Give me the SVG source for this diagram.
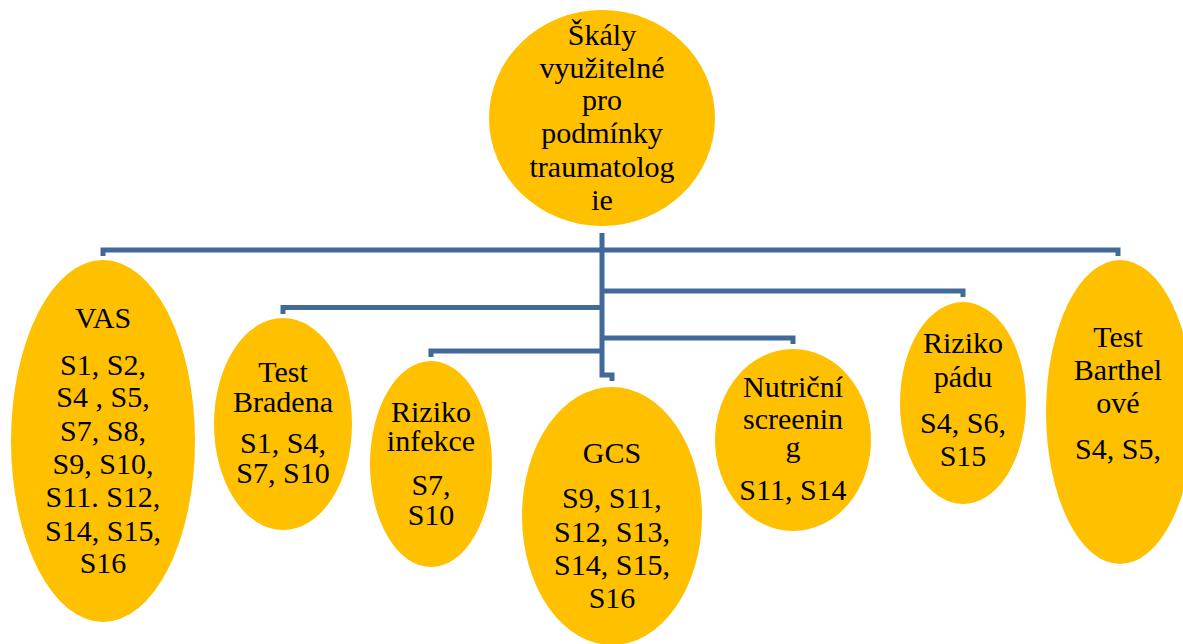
<svg xmlns="http://www.w3.org/2000/svg" width="1183" height="644" viewBox="0 0 1183 644">
<style>
.n{fill:#FFC000;}
text{font-family:"Liberation Serif","Tinos","Times New Roman","Noto Serif","DejaVu Serif",serif;font-size:30px;fill:#000;text-anchor:middle;}
.c{fill:none;stroke:#416A9B;stroke-width:5;stroke-linejoin:miter;}
</style>
<rect width="1183" height="644" fill="#fff"/>
<g id="connectors">
<path class="c" d="M602,233 V375 H612 V381"/>
<path class="c" d="M103,256 V250 H1118 V256"/>
<path class="c" d="M602,291 H963 V297"/>
<path class="c" d="M283,314 V307.5 H602"/>
<path class="c" d="M602,338 H793 V344"/>
<path class="c" d="M431,357 V351 H602"/>
</g>
<g id="root">
<ellipse class="n" cx="602" cy="118" rx="113" ry="108"/>
<text x="602" y="45">Škály</text>
<text x="602" y="78">využitelné</text>
<text x="602" y="110">pro</text>
<text x="602" y="143">podmínky</text>
<text x="602" y="177">traumatolog</text>
<text x="602" y="210">ie</text>
</g>
<g id="vas">
<ellipse class="n" cx="103" cy="441" rx="92" ry="181"/>
<text x="103" y="328">VAS</text>
<text x="103" y="375">S1, S2,</text>
<text x="103" y="407">S4 , S5,</text>
<text x="103" y="441">S7, S8,</text>
<text x="103" y="474">S9, S10,</text>
<text x="103" y="507">S11. S12,</text>
<text x="103" y="541">S14, S15,</text>
<text x="103" y="573">S16</text>
</g>
<g id="bradena">
<ellipse class="n" cx="283" cy="424" rx="69" ry="106"/>
<text x="283" y="382">Test</text>
<text x="283" y="412">Bradena</text>
<text x="283" y="453">S1, S4,</text>
<text x="283" y="483">S7, S10</text>
</g>
<g id="infekce">
<ellipse class="n" cx="431" cy="464" rx="61" ry="103"/>
<text x="431" y="422">Riziko</text>
<text x="431" y="451">infekce</text>
<text x="431" y="495">S7,</text>
<text x="431" y="525">S10</text>
</g>
<g id="gcs">
<ellipse class="n" cx="612" cy="516" rx="90" ry="129"/>
<text x="612" y="463">GCS</text>
<text x="612" y="508">S9, S11,</text>
<text x="612" y="542">S12, S13,</text>
<text x="612" y="575">S14, S15,</text>
<text x="612" y="608">S16</text>
</g>
<g id="nutricni">
<ellipse class="n" cx="793" cy="440" rx="78" ry="91"/>
<text x="793" y="397">Nutriční</text>
<text x="793" y="429">screenin</text>
<text x="793" y="457">g</text>
<text x="793" y="500">S11, S14</text>
</g>
<g id="padu">
<ellipse class="n" cx="963" cy="403" rx="63" ry="101"/>
<text x="963" y="353">Riziko</text>
<text x="963" y="387">pádu</text>
<text x="963" y="433">S4, S6,</text>
<text x="963" y="466">S15</text>
</g>
<g id="barthel">
<ellipse class="n" cx="1120" cy="412" rx="74" ry="152"/>
<text x="1118" y="347">Test</text>
<text x="1118" y="380">Barthel</text>
<text x="1118" y="413">ové</text>
<text x="1118" y="459">S4, S5,</text>
</g>
</svg>
